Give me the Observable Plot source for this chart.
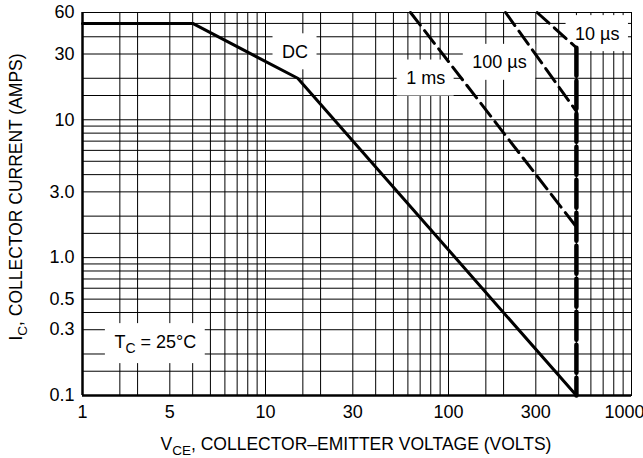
<!DOCTYPE html>
<html><head><meta charset="utf-8">
<script src="https://cdn.jsdelivr.net/npm/d3@7"></script>
<script src="https://cdn.jsdelivr.net/npm/@observablehq/plot@0.6"></script>
<style>
html,body{margin:0;padding:0;background:#fff;}
#chart svg{display:block;}
</style>
</head><body>
<div id="chart"></div>
<script>
// Grid values (log grid as drawn in the datasheet)
const xGrid = [1,1.6,2,3,4,5,6,7,8,9,10,16,20,30,40,50,60,70,80,90,100,160,200,300,400,500,600,700,800,900,1000];
const yGrid = [0.1,0.15,0.2,0.3,0.4,0.5,0.6,0.7,0.8,0.9,1,1.5,2,3,4,5,6,7,8,9,10,15,20,30,40,50,60];
// Tick labels as printed
const xTickValues = [1,3,10,30,100,300,1000];
const xTickLabels = ["1","5","10","30","100","300","1000"];
const yTickValues = [0.1,0.3,0.5,1,3,10,30,60];
const yTickLabels = ["0.1","0.3","0.5","1.0","3.0","10","30","60"];

// Safe operating area curves: VCE (volts), IC (amps)
const dcV = [1,4,15,500];
const dcI = [50,50,20,0.1];
const ms1V = [62,500];
const ms1I = [60,1.67];
const us100V = [205,500];
const us100I = [60,11.5];
const us10V = [305,500];
const us10I = [60,33.3];
const us10VertV = [500,500];
const us10VertI = [33.3,0.1];

// Annotations
const labelText = ["DC","1 ms","100 µs","10 µs","TC = 25°C"];
const labelV = [14.5,75,190,650,2.5];
const labelI = [31,20,26,42,0.245];

const zip = (xs, ys) => xs.map((x, i) => ({x, y: ys[i]}));
const labels = labelText.map((t, i) => ({t, x: labelV[i], y: labelI[i]}));
const xTicks = xTickValues.map((v, i) => ({v, t: xTickLabels[i]}));
const yTicks = yTickValues.map((v, i) => ({v, t: yTickLabels[i]}));

const FONT = "'Liberation Sans', Arial, Helvetica, sans-serif";

const plot = Plot.plot({
  width: 643,
  height: 458,
  marginLeft: 82,
  marginRight: 12,
  marginTop: 12,
  marginBottom: 63,
  style: {fontFamily: FONT, fontSize: "18px", color: "#000", background: "#fff", overflow: "visible"},
  x: {type: "log", domain: [1, 1000], axis: null},
  y: {type: "log", domain: [0.1, 60], axis: null},
  marks: [
    Plot.ruleX(xGrid, {stroke: "#000", strokeWidth: 1}),
    Plot.ruleY(yGrid, {stroke: "#000", strokeWidth: 1}),
    Plot.frame({stroke: "#000", strokeWidth: 1}),
    Plot.text(labels, {x: "x", y: "y", text: "t", fontSize: 18, fill: "#000"}),
    Plot.line(zip(dcV, dcI), {x: "x", y: "y", stroke: "#000", strokeWidth: 3}),
    Plot.line(zip(ms1V, ms1I), {x: "x", y: "y", stroke: "#000", strokeWidth: 3, strokeDasharray: "16,7"}),
    Plot.line(zip(us100V, us100I), {x: "x", y: "y", stroke: "#000", strokeWidth: 3, strokeDasharray: "16,7"}),
    Plot.line(zip(us10V, us10I), {x: "x", y: "y", stroke: "#000", strokeWidth: 3, strokeDasharray: "16,7"}),
    Plot.line(zip(us10VertV, us10VertI), {x: "x", y: "y", stroke: "#000", strokeWidth: 4.5, strokeDasharray: "28,5"}),
    Plot.ruleX([1], {stroke: "#000", strokeWidth: 2.5}),
    Plot.ruleY([0.1], {stroke: "#000", strokeWidth: 2.5}),
    // tick labels
    Plot.text(yTicks, {y: "v", text: "t", frameAnchor: "left", textAnchor: "end", dx: -8, fontSize: 18, fill: "#000"}),
    Plot.text(xTicks, {x: "v", text: "t", frameAnchor: "bottom", lineAnchor: "top", dy: 10, fontSize: 18, fill: "#000"})
  ]
});

document.getElementById("chart").append(plot);

const svg = d3.select(plot);
const annotTexts = [];
svg.selectAll("text").each(function() {
  const txt = this.textContent;
  if (labelText.includes(txt)) annotTexts.push(this);
  if (txt === "1000") d3.select(this).attr("dx", -7);
});
annotTexts.forEach(el => {
  if (el.textContent === "TC = 25°C") {
    const e = d3.select(el);
    e.text(null);
    e.append("tspan").text("T");
    e.append("tspan").attr("dy", 5).attr("font-size", 14).text("C");
    e.append("tspan").attr("dy", -5).text(" = 25°C");
  }
});
// white boxes behind annotations
if (annotTexts.length) {
  const grp = annotTexts[0].parentNode;
  const boxG = document.createElementNS("http://www.w3.org/2000/svg", "g");
  grp.parentNode.insertBefore(boxG, grp);
  annotTexts.forEach(el => {
    const b = el.getBBox();
    const tr = el.getAttribute("transform");
    const r = d3.select(boxG).append("rect")
      .attr("x", b.x - 9).attr("y", b.y - 8)
      .attr("width", b.width + 18).attr("height", b.height + 16)
      .attr("fill", "#fff");
    if (tr) r.attr("transform", tr);
  });
}

// axis titles
const xt = svg.append("text").attr("x", 356).attr("y", 450)
  .attr("text-anchor", "middle").attr("font-family", FONT).attr("font-size", 17.5).attr("fill", "#000");
xt.append("tspan").text("V");
xt.append("tspan").attr("dy", 5).attr("font-size", 13.5).text("CE");
xt.append("tspan").attr("dy", -5).text(", COLLECTOR–EMITTER VOLTAGE (VOLTS)");

const yt = svg.append("text").attr("transform", "translate(22,197) rotate(-90)")
  .attr("text-anchor", "middle").attr("font-family", FONT).attr("font-size", 17.5).attr("fill", "#000");
yt.append("tspan").text("I");
yt.append("tspan").attr("dy", 5).attr("font-size", 13.5).text("C");
yt.append("tspan").attr("dy", -5).text(", COLLECTOR CURRENT (AMPS)");
</script>
</body></html>
